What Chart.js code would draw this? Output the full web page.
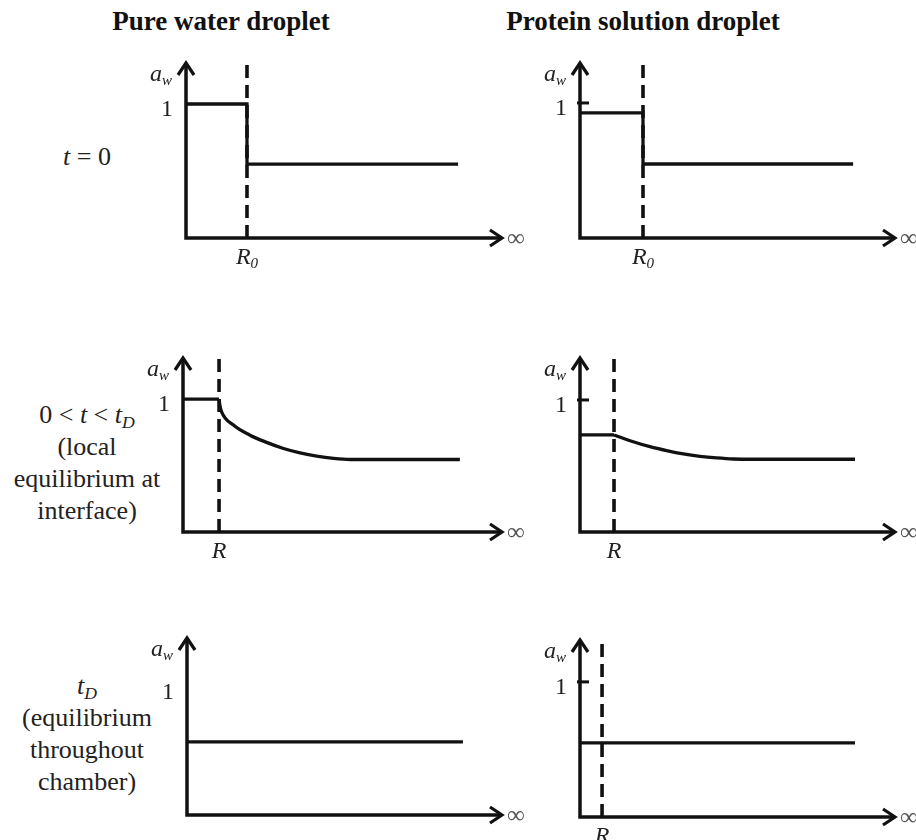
<!DOCTYPE html>
<html>
<head>
<meta charset="utf-8">
<script src="https://cdn.jsdelivr.net/npm/chart.js@4.4.1/dist/chart.umd.min.js"></script>
<style>
  html, body { margin:0; padding:0; background:#fff; overflow:hidden; }
  body { width:916px; height:840px; position:relative; font-family:"Liberation Serif","Times New Roman",serif; color:#111; }
  .title { position:absolute; top:8px; font-size:27px; font-weight:bold; line-height:27px; text-align:center; white-space:nowrap; }
  .row { position:absolute; left:0; width:174px; font-family:"Liberation Serif",serif; font-size:26px; line-height:32px; text-align:center; color:#222; white-space:nowrap; }
  .row sub { font-size:0.68em; vertical-align:-0.3em; line-height:0; font-style:italic; }
  canvas { position:absolute; }
</style>
</head>
<body>
<div class="title" style="left:101px;width:240px">Pure water droplet</div>
<div class="title" style="left:503px;width:280px">Protein solution droplet</div>

<div class="row" style="top:141px"><i>t</i> = 0</div>
<div class="row" style="top:399px">0 &lt; <i>t</i> &lt; <i>t</i><sub>D</sub><br>(local<br>equilibrium at<br>interface)</div>
<div class="row" style="top:670px"><i>t</i><sub>D</sub><br>(equilibrium<br>throughout<br>chamber)</div>

<canvas id="c0"></canvas>
<canvas id="c1"></canvas>
<canvas id="c2"></canvas>
<canvas id="c3"></canvas>
<canvas id="c4"></canvas>
<canvas id="c5"></canvas>

<script>
/* water activity profiles a_w(r): pure water vs protein solution droplet */

// x runs 0..10 from the a_w axis to the arrow tip, y is a_w (1 = pure water)
const xTip = 10;

// t = 0
const pureT0X = [0, 1.93, 1.93, 8.61];
const pureT0Y = [1, 1, 0.552, 0.552];
const protT0X = [0, 2.0, 2.0, 8.67];
const protT0Y = [0.926, 0.926, 0.548, 0.548];

// 0 < t < tD : flat inside the droplet, decaying outside
const pureMidInX  = [0, 1.13];
const pureMidInY  = [1, 1];
const pureMidOutX = [1.13, 1.16, 1.21, 1.58, 2.1, 2.62, 3.15, 3.67, 4.19, 4.72, 5.24, 8.68];
const pureMidOutY = [1.0, 0.95, 0.905, 0.805, 0.729, 0.675, 0.629, 0.596, 0.571, 0.554, 0.546, 0.546];
const protMidInX  = [0, 1.08];
const protMidInY  = [0.735, 0.735];
const protMidOutX = [1.08, 1.69, 2.22, 2.75, 3.28, 3.81, 4.34, 4.87, 5.5, 8.73];
const protMidOutY = [0.735, 0.684, 0.646, 0.616, 0.591, 0.573, 0.561, 0.553, 0.551, 0.551];

// tD : equilibrium everywhere
const pureEqX = [0, 8.76];
const pureEqY = [0.57, 0.57];
const protEqX = [0, 8.73];
const protEqY = [0.548, 0.548];

// droplet radius (dashed) and its tick label, per panel
const radiusX     = [1.93, 2.0, 1.13, 1.08, null, 0.70];
const radiusLabel = ['R0', 'R0', 'R', 'R', null, 'R'];
const unitTick    = [false, true, false, true, false, true];

// page placement of each panel: a_w axis x, arrow tip x, arrow top y, r axis y
const BOXES = [
  { ax:186, tip:502, top:63,  base:238, yMax:1.306 },
  { ax:580, tip:895, top:63,  base:238, yMax:1.296 },
  { ax:183, tip:502, top:358, base:532, yMax:1.31 },
  { ax:580, tip:895, top:358, base:532, yMax:1.318 },
  { ax:187, tip:502, top:638, base:815, yMax:1.38 },
  { ax:580, tip:895, top:640, base:817, yMax:1.31 },
];
const PAD = { left:75, top:10, right:30, bottom:36 };
const SERIF = '"Liberation Serif","Times New Roman",serif';
const INK = '#111';

function arrowHead(ctx, x, y, dir) {
  ctx.beginPath();
  if (dir === 'up') { ctx.moveTo(x - 8, y + 12); ctx.lineTo(x, y); ctx.lineTo(x + 8, y + 12); }
  else { ctx.moveTo(x - 12, y - 8); ctx.lineTo(x, y); ctx.lineTo(x - 12, y + 8); }
  ctx.stroke();
}

// italic symbol with a smaller italic subscript, anchored by 'right' or 'center'
function subText(ctx, main, sub, x, y, anchor, big, small, drop) {
  ctx.font = 'italic ' + big + 'px ' + SERIF;
  const wm = ctx.measureText(main).width;
  ctx.font = 'italic ' + small + 'px ' + SERIF;
  const ws = sub ? ctx.measureText(sub).width : 0;
  const x0 = anchor === 'right' ? x - wm - ws : x - (wm + ws) / 2;
  ctx.textAlign = 'left';
  ctx.textBaseline = 'alphabetic';
  ctx.font = 'italic ' + big + 'px ' + SERIF;
  ctx.fillText(main, x0, y);
  if (sub) {
    ctx.font = 'italic ' + small + 'px ' + SERIF;
    ctx.fillText(sub, x0 + wm, y + drop);
  }
}

const axesPlugin = {
  id: 'axesArrows',
  afterDatasetsDraw(chart, args, opts) {
    const i = opts.panel;
    const ctx = chart.ctx;
    const sx = chart.scales.x, sy = chart.scales.y;
    const ax = sx.getPixelForValue(0), tip = sx.getPixelForValue(xTip);
    const base = sy.getPixelForValue(0), top = sy.getPixelForValue(sy.max);
    const y1 = sy.getPixelForValue(1);

    ctx.save();
    ctx.strokeStyle = INK;
    ctx.fillStyle = '#222';
    ctx.lineWidth = 3.5;
    ctx.lineCap = 'square';
    ctx.lineJoin = 'miter';
    ctx.beginPath();
    ctx.moveTo(ax, top + 2);
    ctx.lineTo(ax, base);
    ctx.lineTo(tip - 2, base);
    ctx.stroke();
    ctx.lineCap = 'butt';
    ctx.lineWidth = 3.2;
    arrowHead(ctx, ax, top, 'up');
    arrowHead(ctx, tip, base, 'right');

    if (unitTick[i]) {
      ctx.lineWidth = 3;
      ctx.beginPath();
      ctx.moveTo(ax - 3, y1);
      ctx.lineTo(ax + 9, y1);
      ctx.stroke();
    }

    // a_w axis name and the unit mark
    subText(ctx, 'a', 'w', ax - 14, top + 18, 'right', 24, 15, 4);
    ctx.font = '24px ' + SERIF;
    ctx.textAlign = 'right';
    ctx.textBaseline = 'alphabetic';
    ctx.fillText('1', ax - 13, y1 + 12);

    // radius label under the dashed line
    if (radiusX[i] != null) {
      const lab = radiusLabel[i];
      subText(ctx, lab[0], lab.slice(1), sx.getPixelForValue(radiusX[i]), base + 26, 'center', 24, 15, 4);
    }

    // infinity at the arrow tip
    ctx.fillStyle = '#555';
    ctx.font = '25px ' + SERIF;
    ctx.textAlign = 'left';
    ctx.textBaseline = 'middle';
    ctx.fillText('\u221E', tip + 5, base + 1);
    ctx.restore();
  }
};

function lineSet(xs, ys, smooth) {
  return {
    data: xs.map((x, k) => ({ x, y: ys[k] })),
    borderColor: INK, borderWidth: 3.3, pointRadius: 0, fill: false,
    tension: 0, cubicInterpolationMode: smooth ? 'monotone' : 'default',
    borderJoinStyle: 'miter', clip: 8,
  };
}

function makePanel(i, sets) {
  const b = BOXES[i];
  const cv = document.getElementById('c' + i);
  cv.width = (b.tip - b.ax) + PAD.left + PAD.right;
  cv.height = (b.base - b.top) + PAD.top + PAD.bottom;
  cv.style.left = (b.ax - PAD.left) + 'px';
  cv.style.top = (b.top - PAD.top) + 'px';

  const datasets = sets.map(s => lineSet(s[0], s[1], s[2]));
  if (radiusX[i] != null) {
    datasets.push({
      data: [{ x: radiusX[i], y: 0 }, { x: radiusX[i], y: b.yMax }],
      borderColor: INK, borderWidth: 3.6, borderDash: [13, 7], pointRadius: 0,
      fill: false, tension: 0, clip: 8,
    });
  }

  new Chart(cv, {
    type: 'line',
    data: { datasets },
    plugins: [axesPlugin],
    options: {
      responsive: false, animation: false, devicePixelRatio: 1,
      layout: { padding: PAD },
      plugins: { legend: { display: false }, tooltip: { enabled: false }, axesArrows: { panel: i } },
      scales: {
        x: { type: 'linear', min: 0, max: xTip, display: false },
        y: { type: 'linear', min: 0, max: b.yMax, display: false },
      },
    },
  });
}

makePanel(0, [[pureT0X, pureT0Y]]);
makePanel(1, [[protT0X, protT0Y]]);
makePanel(2, [[pureMidInX, pureMidInY], [pureMidOutX, pureMidOutY, true]]);
makePanel(3, [[protMidInX, protMidInY], [protMidOutX, protMidOutY, true]]);
makePanel(4, [[pureEqX, pureEqY]]);
makePanel(5, [[protEqX, protEqY]]);
</script>
</body>
</html>
